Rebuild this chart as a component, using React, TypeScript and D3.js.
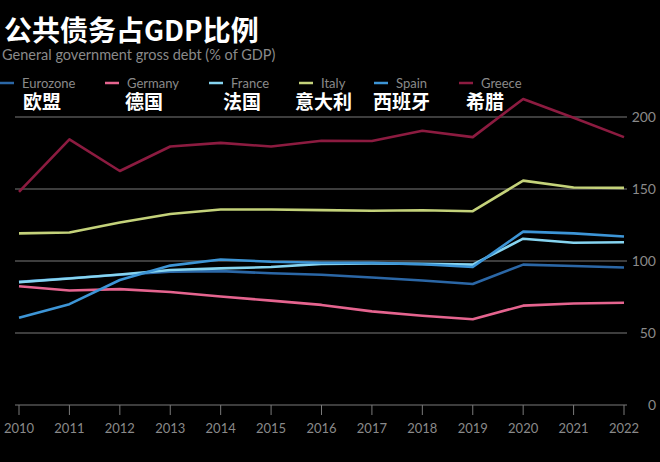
import React from "react";
import * as d3 from "d3";

const years = [2010, 2011, 2012, 2013, 2014, 2015, 2016, 2017, 2018, 2019, 2020, 2021, 2022];
const eurozone = [85.5, 88, 90.5, 92.5, 93, 91.5, 90.5, 88.5, 86.5, 84, 97.5, 96.5, 95.5];
const germany = [82.5, 79.5, 80.5, 78.5, 75.3, 72.5, 69.5, 65, 62, 59.5, 69, 70.5, 71];
const france = [85.3, 87.8, 90.6, 93.8, 94.9, 95.8, 98, 98.3, 98, 97.5, 115.5, 112.7, 113];
const italy = [119.2, 119.8, 126.8, 132.6, 135.8, 135.8, 135.3, 134.9, 135.2, 134.6, 155.8, 151, 150.8];
const spain = [60.6, 70, 86.8, 96.8, 101, 99.5, 98.8, 98.7, 97.7, 95.8, 120.4, 119.2, 117];
const greece = [148, 184.5, 162.5, 179.5, 182, 179.5, 183.5, 183.3, 190.5, 186, 212.5, 199.5, 186];
const yTicks = [0, 50, 100, 150, 200];

const seriesNames = ["Eurozone", "Germany", "France", "Italy", "Spain", "Greece"];
const seriesZh = ["欧盟", "德国", "法国", "意大利", "西班牙", "希腊"];
const seriesColors = ["#2b67a6", "#e5648f", "#86d4f0", "#c4d27a", "#3d95d6", "#8c1b40"];
const seriesValues = [eurozone, germany, france, italy, spain, greece];

const legendMarkerX = [0, 105, 209, 299, 374, 459];
const legendZhX = [23, 125, 223, 295, 373, 466];

const LATIN = "Lato, 'Open Sans', 'Noto Sans', sans-serif";
const CJK = "'Noto Sans CJK SC', 'Noto Sans', sans-serif";

export default function App() {
  const W = 660, H = 462;
  const x = d3.scaleLinear().domain([2010, 2022]).range([19, 624]);
  const y = d3.scaleLinear().domain([0, 200]).range([405, 117]);
  const line = d3.line<number>().x((_, i) => x(years[i])).y((d) => y(d));
  const gridX0 = 15, gridX1 = 627;

  return (
    <div style={{ position: "fixed", left: 0, top: 0, width: W, height: H, background: "#000" }}>
      <svg width={W} height={H} style={{ display: "block", background: "#000" }}>
        <text x={4} y={41} fill="#fff" fontFamily={CJK} fontWeight={700} fontSize={28}>
          公共债务占GDP比例
        </text>
        <text x={2} y={60} fill="#8a8a8a" fontFamily={LATIN} fontSize={14.5}>
          General government gross debt (% of GDP)
        </text>

        {seriesNames.map((n, i) => (
          <g key={n}>
            <line x1={legendMarkerX[i]} x2={legendMarkerX[i] + 14} y1={83} y2={83} stroke={seriesColors[i]} strokeWidth={2.5} />
            <text x={legendMarkerX[i] + 22} y={88} fill="#8a8a8a" fontFamily={LATIN} fontSize={13}>
              {n}
            </text>
            <text x={legendZhX[i]} y={109} fill="#fff" fontFamily={CJK} fontWeight={700} fontSize={19}>
              {seriesZh[i]}
            </text>
          </g>
        ))}

        {yTicks.map((t) => (
          <g key={t}>
            <line x1={gridX0} x2={gridX1} y1={y(t)} y2={y(t)} stroke="#7a7a7a" strokeWidth={1} />
            <text x={656} y={y(t) + 5} textAnchor="end" fill="#8a8a8a" fontFamily={LATIN} fontSize={14}>
              {t}
            </text>
          </g>
        ))}

        {years.map((yr) => (
          <g key={yr}>
            <line x1={x(yr)} x2={x(yr)} y1={y(0)} y2={y(0) + 10} stroke="#7a7a7a" strokeWidth={1} />
            <text x={x(yr)} y={433} textAnchor="middle" fill="#8a8a8a" fontFamily={LATIN} fontSize={13}>
              {yr}
            </text>
          </g>
        ))}

        {seriesValues.map((vals, i) => (
          <path key={seriesNames[i]} d={line(vals) || ""} fill="none" stroke={seriesColors[i]} strokeWidth={2.6} strokeLinejoin="round" />
        ))}
      </svg>
    </div>
  );
}
